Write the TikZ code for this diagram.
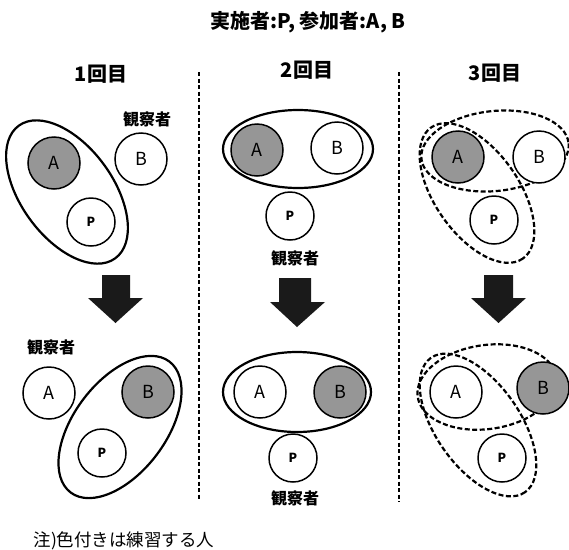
\documentclass[tikz,border=0pt]{standalone}
\usepackage{fontspec}
\setmainfont{Noto Sans CJK JP}
\begin{document}
\begin{tikzpicture}[x=1pt,y=-1pt,
  pers/.style={circle,draw=black,line width=1.5pt,fill=white,inner sep=0pt,minimum size=52pt,font=\fontsize{18}{18}\selectfont},
  perp/.style={circle,draw=black,line width=1.5pt,fill=white,inner sep=0pt,minimum size=48pt,font=\bfseries\fontsize{12.5}{12.5}\selectfont},
  prac/.style={pers,fill=practice},
  grp/.style={line width=2.2pt},
  grpd/.style={line width=2.2pt,dash pattern=on 5pt off 2.5pt},
  divider/.style={line width=1.3pt,dash pattern=on 4pt off 2.5pt},
  bigarrow/.style={fill=arrowc,draw=none},
  obs/.style={font=\bfseries\fontsize{16}{16}\selectfont},
  head/.style={font=\bfseries\fontsize{20}{20}\selectfont}
]
\definecolor{practice}{RGB}{150,150,150}
\definecolor{arrowc}{RGB}{26,26,26}
\useasboundingbox (0,0) rectangle (569,549);

% title
\node[font=\bfseries\fontsize{20}{20}\selectfont] (title) at (308,22) {実施者:P, 参加者:A, B};

% headings
\node[head] (h1) at (101,74) {1回目};
\node[head] (h2) at (307,70) {2回目};
\node[head] (h3) at (495,73) {3回目};

% dividers
\coordinate (d1t) at (199,72); \coordinate (d1b) at (199,500);
\coordinate (d2t) at (399,72); \coordinate (d2b) at (399,502);
\draw[divider] (d1t) -- (d1b);
\draw[divider] (d2t) -- (d2b);

% ===== round 1, top
\draw[grp,rotate around={-54:(67,192)}] (67,192) ellipse (82 and 46);
\node[prac] (a1) at (54,163) {A};
\node[perp] (p1) at (91,222) {P};
\node[pers] (b1) at (141,159) {B};
\node[obs] (o1) at (147,119) {観察者};

% ===== round 2, top
\draw[grp] (298,149) ellipse (75 and 39);
\node[prac] (a2) at (257,150) {A};
\node[pers] (b2) at (337,148) {B};
\node[perp] (p2) at (290,216) {P};
\node[obs] (o2) at (295,258) {観察者};

% ===== round 3, top
\draw[grpd,rotate around={6:(495,151)}] (495,151) ellipse (74 and 40);
\draw[grpd,rotate around={-55:(477,193)}] (477,193) ellipse (80 and 42);
\node[prac] (a3) at (458,157) {A};
\node[pers] (b3) at (539,157) {B};
\node[perp] (p3) at (494,220) {P};

% ===== arrows
\fill[bigarrow] (102,275) -- (130,275) -- (130,298) -- (143,298) -- (115.5,323) -- (88,298) -- (102,298) -- cycle;
\fill[bigarrow] (279,278) -- (311,278) -- (311,302) -- (325,302) -- (297,327) -- (270,302) -- (279,302) -- cycle;
\fill[bigarrow] (484,275) -- (513,275) -- (513,298) -- (526,298) -- (498.5,323) -- (471,298) -- (484,298) -- cycle;

% ===== round 1, bottom
\draw[grp,rotate around={53:(120,427)}] (120,427) ellipse (82 and 46);
\node[obs] (o4) at (51,347) {観察者};
\node[pers] (a4) at (49,393) {A};
\node[prac] (b4) at (148,392) {B};
\node[perp] (p4) at (102,453) {P};

% ===== round 2, bottom
\draw[grp] (297,392) ellipse (74 and 40);
\node[pers] (a5) at (260,392) {A};
\node[prac] (b5) at (340,392) {B};
\node[perp] (p5) at (293,458) {P};
\node[obs] (o5) at (295,498) {観察者};

% ===== round 3, bottom
\draw[grpd,rotate around={8:(487,387)}] (487,387) ellipse (70 and 42);
\draw[grpd,rotate around={-55:(478,425)}] (478,425) ellipse (82 and 42);
\node[pers] (a6) at (456,392) {A};
\node[prac] (b6) at (543,388) {B};
\node[perp] (p6) at (502,458) {P};

% note
\node[font=\fontsize{17.5}{17.5}\selectfont,anchor=west] (note) at (30,541) {注)色付きは練習する人};
\end{tikzpicture}
\end{document}
